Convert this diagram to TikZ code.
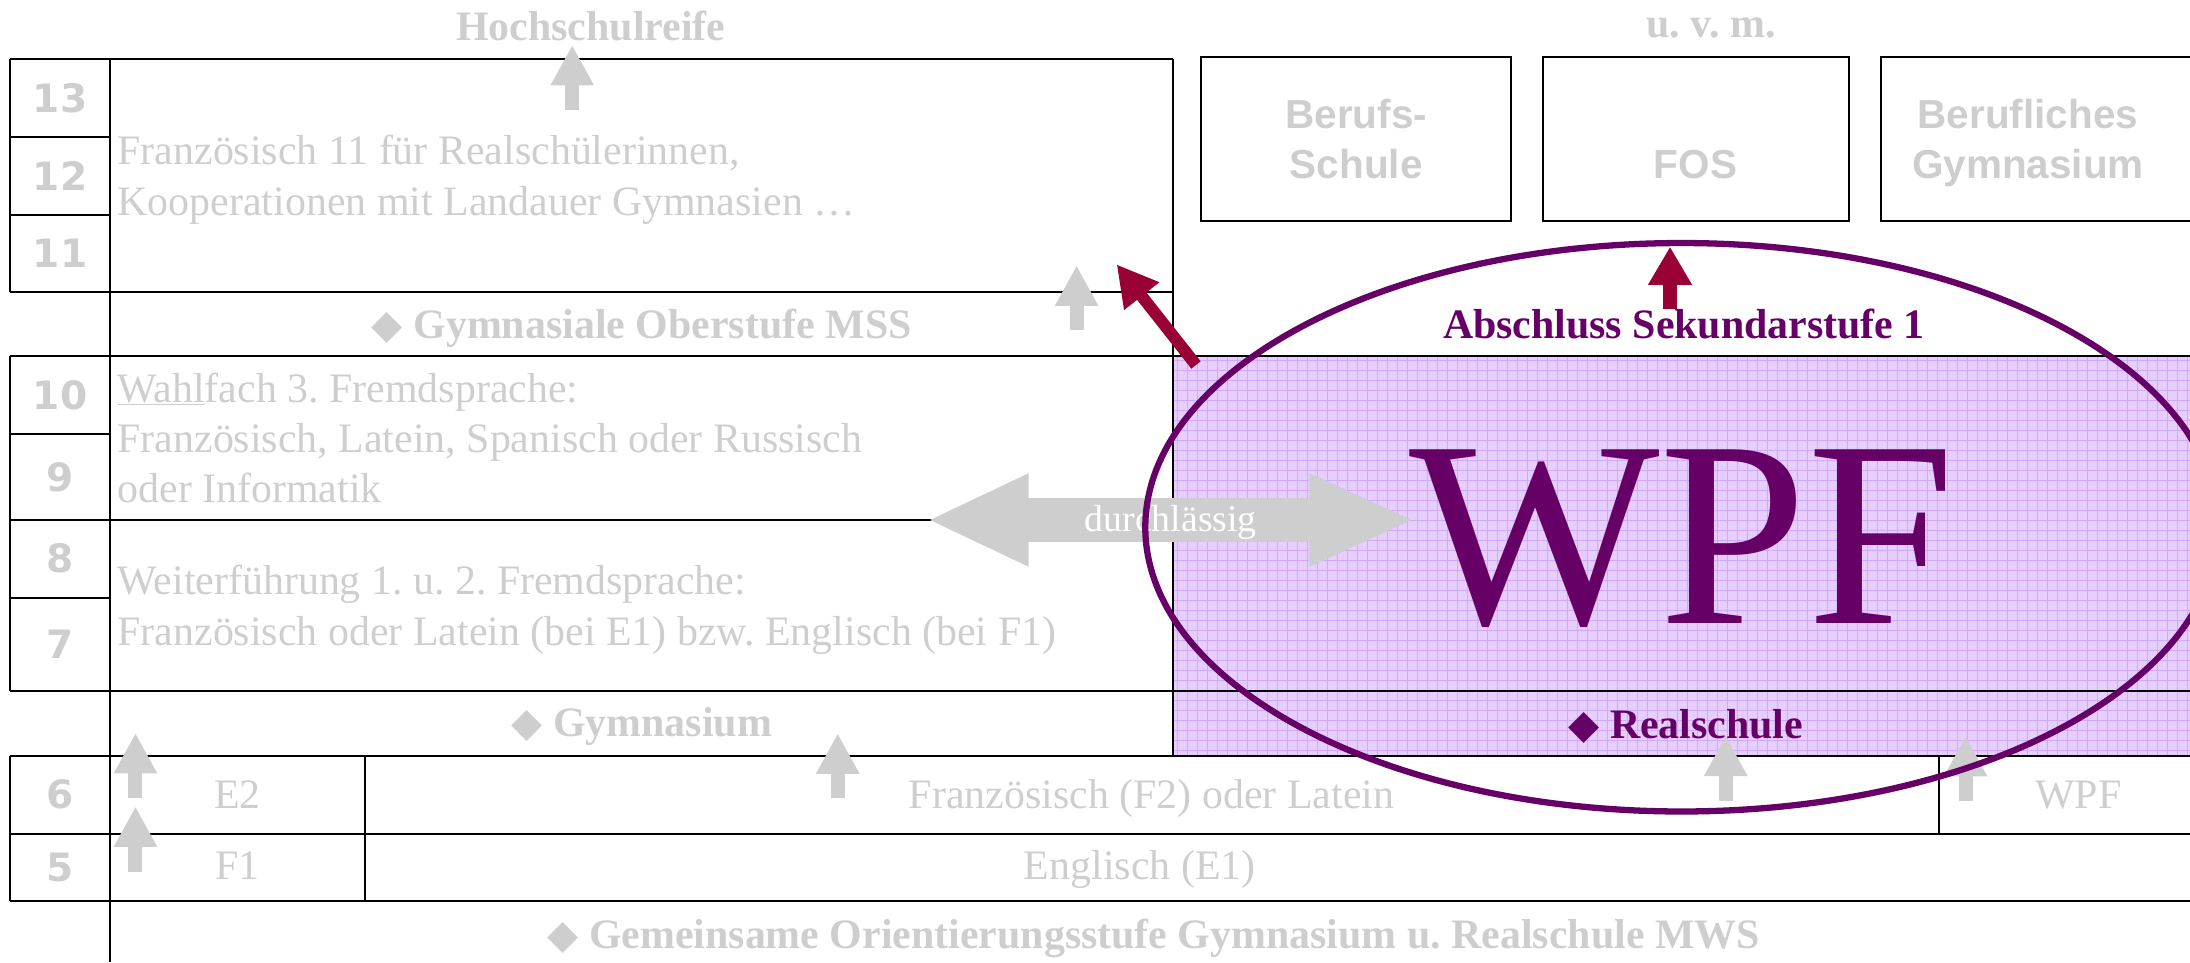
\documentclass[tikz,border=0pt]{standalone}
\usepackage{fontspec}
\setmainfont{Liberation Serif}
\newfontfamily\schoolfont{Liberation Sans}
\newfontfamily\gradefont{DejaVu Sans}
\newfontfamily\symbfont{DejaVu Sans}
\usetikzlibrary{arrows.meta}
\frenchspacing

\definecolor{lightgrey}{RGB}{206,206,206}
\definecolor{wpfpurple}{RGB}{102,0,102}
\definecolor{wpfred}{RGB}{153,0,51}
\definecolor{wpffill}{RGB}{230,206,255}
\definecolor{wpfgrid}{RGB}{210,168,255}

\newcommand{\dia}{{\symbfont\fontsize{29}{29}\selectfont ◆}}

\tikzset{
  rule/.style = {line width = 1.4pt},
  gradenum/.style = {font = \gradefont\bfseries\fontsize{28}{28}\selectfont, text = lightgrey},
  note/.style = {font = \fontsize{30}{36}\selectfont, text = lightgrey, anchor = base west, align = left, inner sep = 0pt},
  cell/.style = {font = \fontsize{30}{36}\selectfont, text = lightgrey, anchor = base, inner sep = 0pt},
  band/.style = {font = \bfseries\fontsize{30}{36}\selectfont, text = lightgrey, anchor = base, inner sep = 0pt},
  school/.style = {font = \schoolfont\bfseries\fontsize{29}{36}\selectfont, text = lightgrey, anchor = base, align = center, inner sep = 0pt},
  uparrow/.style = {draw = lightgrey, line width = 10pt, -{Triangle[length = 29pt, width = 29pt]}},
  redarrow/.style = {draw = wpfred, line width = 8.5pt, -{Triangle[length = 29pt, width = 30pt]}}
}

\begin{document}
\begin{tikzpicture}[x = 1pt, y = -1pt]
    \useasboundingbox (0,0) rectangle (1568,689);
    \clip (0,0) rectangle (1568,689);

    % Realschule area
    \fill[wpffill] (840,255) rectangle (1568,541);
    \foreach \gx in {843,850.16,...,1568}
        \draw[wpfgrid, line width = 0.6pt] (\gx,255) -- (\gx,541);
    \foreach \gy in {258,265.16,...,541}
        \draw[wpfgrid, line width = 0.6pt] (840,\gy) -- (1568,\gy);

    % table
    \draw[rule] (7,42) -- (840,42);
    \draw[rule] (7,98) -- (79,98);
    \draw[rule] (7,154) -- (79,154);
    \draw[rule] (7,209) -- (840,209);
    \draw[rule] (7,255) -- (1568,255);
    \draw[rule] (7,311) -- (79,311);
    \draw[rule] (7,372) -- (670,372);
    \draw[rule] (7,428) -- (79,428);
    \draw[rule] (7,495) -- (1568,495);
    \draw[rule] (7,541) -- (1568,541);
    \draw[rule] (7,597) -- (1568,597);
    \draw[rule] (7,645) -- (1568,645);
    \draw[rule] (7,42) -- (7,209);
    \draw[rule] (7,255) -- (7,495);
    \draw[rule] (7,541) -- (7,645);
    \draw[rule] (79,42) -- (79,689);
    \draw[rule] (840,42) -- (840,541);
    \draw[rule] (261,541) -- (261,645);
    \draw[rule] (1388,541) -- (1388,597);

    % schools after Sekundarstufe 1
    \draw[rule] (860,41) rectangle (1082,158.5);
    \draw[rule] (1105,41) rectangle (1323.5,158.5);
    \draw[rule] (1347,41) rectangle (1590,158.5);
    \node[school] (bs) at (971,127.7) {Berufs-\\Schule};
    \node[school] (fos) at (1214,127.7) {FOS};
    \node[school] (bg) at (1452,127.7) {Berufliches\\Gymnasium};

    % grades
    \node[gradenum] (g13) at (43,70) {13};
    \node[gradenum] (g12) at (43,126) {12};
    \node[gradenum] (g11) at (43,181.5) {11};
    \node[gradenum] (g10) at (43,283) {10};
    \node[gradenum] (g9) at (43,341.5) {9};
    \node[gradenum] (g8) at (43,400) {8};
    \node[gradenum] (g7) at (43,461.5) {7};
    \node[gradenum] (g6) at (43,569) {6};
    \node[gradenum] (g5) at (43,621) {5};

    % texts
    \node[band] (hsr) at (423,29) {Hochschulreife};
    \node[band] (uvm) at (1225,27) {u. v. m.};
    \node[note] (koop) at (84,154) {Französisch 11 für Realschülerinnen,\\Kooperationen mit Landauer Gymnasien …};
    \node[band] (mss) at (459.5,242) {\dia\ Gymnasiale Oberstufe MSS};
    \node[note] (wahl) at (84,359.9) {\underline{Wahl}fach 3. Fremdsprache:\\Französisch, Latein, Spanisch oder Russisch\\oder Informatik};
    \node[note] (weiter) at (84,461.8) {Weiterführung 1. u. 2. Fremdsprache:\\Französisch oder Latein (bei E1) bzw. Englisch (bei F1)};
    \node[band] (gym) at (459.5,527.4) {\dia\ Gymnasium};
    \node[cell] (e2) at (170,579) {E2};
    \node[cell] (f2) at (824.5,579) {Französisch (F2) oder Latein};
    \node[cell] (wpfcell) at (1488,579) {WPF};
    \node[cell] (f1) at (170,630) {F1};
    \node[cell] (e1) at (816,630) {Englisch (E1)};
    \node[band] (mws) at (826,679) {\dia\ Gemeinsame Orientierungsstufe Gymnasium u. Realschule MWS};

    % grey arrows
    \foreach \n/\ax/\ay in {hsr/409.7/78.8, mss/770.8/236.6, gyma/97/571.4, gymb/97/624, gymc/599.8/571.6, reala/1235.6/573.2, realb/1407.4/573.5}
        \coordinate (up\n) at (\ax,\ay);
    \foreach \n in {hsr, mss, gyma, gymb, gymc, reala, realb}
        \draw[uparrow] (up\n) -- ++(0,-46.6);

    % durchlaessig
    \coordinate (durchL) at (663.5,372.3);
    \coordinate (durchR) at (1013.1,372.3);
    \draw[draw = lightgrey, line width = 30.8pt, {Triangle[length = 73pt, width = 61pt]}-{Triangle[length = 75.7pt, width = 61pt]}] (durchL) -- node[anchor = base, yshift = -8.4pt, inner sep = 0pt, text = white, font = \fontsize{27}{27}\selectfont] (durch) {durchlässig} (durchR);

    % WPF
    \draw[wpfpurple, line width = 4.5pt] (1204,377.5) ellipse [x radius = 384pt, y radius = 203.5pt];
    \node[band, text = wpfpurple] (abs) at (1205.7,242) {Abschluss Sekundarstufe 1};
    \node[band, text = wpfpurple] (real) at (1207,528.5) {\dia\ Realschule};
    \node[font = \fontsize{190}{190}\selectfont, text = wpfpurple, anchor = base, inner sep = 0pt] (wpf) at (1204.4,446.3) {WPF};

    \coordinate (ovtail) at (856.3,261.3);
    \coordinate (ovtip) at (799.5,189.3);
    \draw[redarrow] (ovtail) -- (ovtip);
    \coordinate (abstail) at (1195.7,221);
    \coordinate (abstip) at (1195.7,176.6);
    \draw[redarrow, line width = 10pt, -{Triangle[length = 27.4pt, width = 29.6pt]}] (abstail) -- (abstip);
\end{tikzpicture}
\end{document}
